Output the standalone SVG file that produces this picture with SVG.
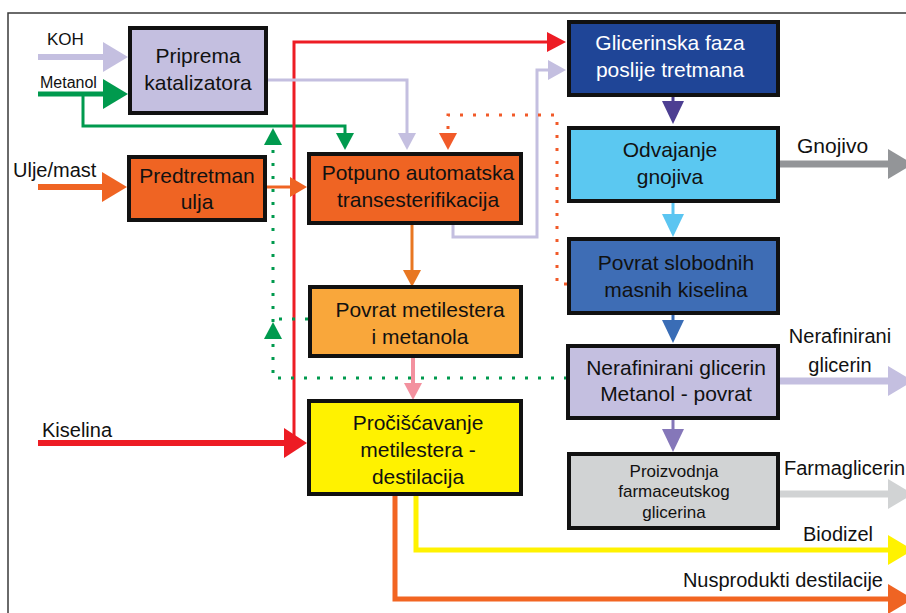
<svg xmlns="http://www.w3.org/2000/svg" width="906" height="613" viewBox="0 0 906 613">
  <style>
    text { font-family: "Liberation Sans", Arial, sans-serif; fill: #111; }
    .node rect { stroke: #111; stroke-width: 4; }
    .nt { font-size: 21px; text-anchor: middle; }
    .nts { font-size: 17px; text-anchor: middle; }
    .lbl { font-size: 20px; }
    .ln { fill: none; stroke-linejoin: miter; }
    .dot { fill: none; stroke-width: 3; stroke-dasharray: 3 10; }
  </style>
  <defs>
    <!-- large heads (inputs/outputs): 25 long, 30 tall -->
    <marker id="L-lav" viewBox="0 0 25 30" refX="0" refY="15" markerWidth="25" markerHeight="30" markerUnits="userSpaceOnUse" orient="auto"><path d="M0,0L25,15L0,30z" fill="#c4bfe0"/></marker>
    <marker id="L-grn" viewBox="0 0 25 30" refX="0" refY="15" markerWidth="25" markerHeight="30" markerUnits="userSpaceOnUse" orient="auto"><path d="M0,0L25,15L0,30z" fill="#009a4e"/></marker>
    <marker id="L-org" viewBox="0 0 25 30" refX="0" refY="15" markerWidth="25" markerHeight="30" markerUnits="userSpaceOnUse" orient="auto"><path d="M0,0L25,15L0,30z" fill="#ef6423"/></marker>
    <marker id="L-gry" viewBox="0 0 25 30" refX="0" refY="15" markerWidth="25" markerHeight="30" markerUnits="userSpaceOnUse" orient="auto"><path d="M0,0L25,15L0,30z" fill="#939598"/></marker>
    <marker id="L-lgy" viewBox="0 0 25 30" refX="0" refY="15" markerWidth="25" markerHeight="30" markerUnits="userSpaceOnUse" orient="auto"><path d="M0,0L25,15L0,30z" fill="#d1d3d4"/></marker>
    <marker id="L-yel" viewBox="0 0 25 30" refX="0" refY="15" markerWidth="25" markerHeight="30" markerUnits="userSpaceOnUse" orient="auto"><path d="M0,0L25,15L0,30z" fill="#fff200"/></marker>
    <!-- medium heads between right-column boxes: 23 long, 22 wide -->
    <marker id="M-dpu" viewBox="0 0 23 22" refX="0" refY="11" markerWidth="23" markerHeight="22" markerUnits="userSpaceOnUse" orient="auto"><path d="M0,0L23,11L0,22z" fill="#4d3f92"/></marker>
    <marker id="M-lbl" viewBox="0 0 23 22" refX="0" refY="11" markerWidth="23" markerHeight="22" markerUnits="userSpaceOnUse" orient="auto"><path d="M0,0L23,11L0,22z" fill="#5bc5f1"/></marker>
    <marker id="M-blu" viewBox="0 0 23 22" refX="0" refY="11" markerWidth="23" markerHeight="22" markerUnits="userSpaceOnUse" orient="auto"><path d="M0,0L23,11L0,22z" fill="#3a6db6"/></marker>
    <marker id="M-pur" viewBox="0 0 23 22" refX="0" refY="11" markerWidth="23" markerHeight="22" markerUnits="userSpaceOnUse" orient="auto"><path d="M0,0L23,11L0,22z" fill="#8577b9"/></marker>
    <!-- small heads: 17 long, 18 wide -->
    <marker id="S-grn" viewBox="0 0 17 18" refX="0" refY="9" markerWidth="17" markerHeight="18" markerUnits="userSpaceOnUse" orient="auto"><path d="M0,0L17,9L0,18z" fill="#009a4e"/></marker>
    <marker id="S-lav" viewBox="0 0 17 18" refX="0" refY="9" markerWidth="17" markerHeight="18" markerUnits="userSpaceOnUse" orient="auto"><path d="M0,0L17,9L0,18z" fill="#c4bfe0"/></marker>
    <marker id="S-dor" viewBox="0 0 17 18" refX="0" refY="9" markerWidth="17" markerHeight="18" markerUnits="userSpaceOnUse" orient="auto"><path d="M0,0L17,9L0,18z" fill="#f15a29"/></marker>
    <marker id="S-amb" viewBox="0 0 17 18" refX="0" refY="9" markerWidth="17" markerHeight="18" markerUnits="userSpaceOnUse" orient="auto"><path d="M0,0L17,9L0,18z" fill="#e87722"/></marker>
    <marker id="S-pnk" viewBox="0 0 17 18" refX="0" refY="9" markerWidth="17" markerHeight="18" markerUnits="userSpaceOnUse" orient="auto"><path d="M0,0L17,9L0,18z" fill="#f3919f"/></marker>
    <marker id="S-red" viewBox="0 0 19 20" refX="0" refY="10" markerWidth="19" markerHeight="20" markerUnits="userSpaceOnUse" orient="auto"><path d="M0,0L19,10L0,20z" fill="#ed1c24"/></marker>
    <marker id="S-lav2" viewBox="0 0 18 20" refX="0" refY="10" markerWidth="18" markerHeight="20" markerUnits="userSpaceOnUse" orient="auto"><path d="M0,0L18,10L0,20z" fill="#c4bfe0"/></marker>
    <marker id="S-org2" viewBox="0 0 17 20" refX="0" refY="10" markerWidth="17" markerHeight="20" markerUnits="userSpaceOnUse" orient="auto"><path d="M0,0L17,10L0,20z" fill="#ef6423"/></marker>
    <marker id="K-red" viewBox="0 0 23 30" refX="0" refY="15" markerWidth="23" markerHeight="30" markerUnits="userSpaceOnUse" orient="auto"><path d="M0,0L23,15L0,30z" fill="#ed1c24"/></marker>
  </defs>

  <rect width="906" height="613" fill="#ffffff"/>
  <!-- frame -->
  <path d="M8,613 V13 H906" fill="none" stroke="#3a3a3a" stroke-width="1.5"/>

  <g id="connectors">
    <!-- inputs -->
    <path class="ln" d="M38,57 H103" stroke="#c4bfe0" stroke-width="6" marker-end="url(#L-lav)"/>
    <path class="ln" d="M38,94 H103" stroke="#009a4e" stroke-width="5" marker-end="url(#L-grn)"/>
    <path class="ln" d="M83,94 V126 H345 V133" stroke="#009a4e" stroke-width="3" marker-end="url(#S-grn)"/>
    <path class="ln" d="M38,187 H102" stroke="#ef6423" stroke-width="6" marker-end="url(#L-org)"/>
    <path class="ln" d="M38,443 H284" stroke="#ed1c24" stroke-width="6" marker-end="url(#K-red)"/>
    <!-- red acid line up to glycerin phase -->
    <path class="ln" d="M294,443 V42 H547" stroke="#ed1c24" stroke-width="3" marker-end="url(#S-red)"/>
    <!-- catalyst to transesterification -->
    <path class="ln" d="M268,80 H407 V133" stroke="#c4bfe0" stroke-width="3" marker-end="url(#S-lav)"/>
    <!-- pretreatment to transesterification -->
    <path class="ln" d="M267,187 H290" stroke="#ef6423" stroke-width="3" marker-end="url(#S-org2)"/>
    <!-- transesterification to glycerin phase -->
    <path class="ln" d="M453,225 V237 H537 V70 H548" stroke="#c4bfe0" stroke-width="3" marker-end="url(#S-lav2)"/>
    <!-- free fatty acids return (dotted) -->
    <path class="dot" d="M567,284 H557 V115 H448 V133" stroke="#f15a29" marker-end="url(#S-dor)"/>
    <!-- transesterification to ester recovery -->
    <path class="ln" d="M412,225 V270" stroke="#e87722" stroke-width="3" marker-end="url(#S-amb)"/>
    <!-- ester recovery to purification -->
    <path class="ln" d="M413,358 V383" stroke="#f3919f" stroke-width="4" marker-end="url(#S-pnk)"/>
    <!-- methanol recycle (dotted) -->
    <path class="dot" d="M308,319 H273" stroke="#009a4e"/>
    <path class="dot" d="M567,378 H273 V339" stroke="#009a4e" marker-end="url(#S-grn)"/>
    <path class="dot" d="M273,322 V145" stroke="#009a4e" marker-end="url(#S-grn)"/>
    <!-- right column -->
    <path class="ln" d="M673,97 V101" stroke="#4d3f92" stroke-width="3" marker-end="url(#M-dpu)"/>
    <path class="ln" d="M673,203 V214" stroke="#5bc5f1" stroke-width="3" marker-end="url(#M-lbl)"/>
    <path class="ln" d="M673,315 V320" stroke="#3a6db6" stroke-width="3" marker-end="url(#M-blu)"/>
    <path class="ln" d="M673,420 V429" stroke="#8577b9" stroke-width="3" marker-end="url(#M-pur)"/>
    <!-- outputs -->
    <path class="ln" d="M780,164 H888" stroke="#939598" stroke-width="7" marker-end="url(#L-gry)"/>
    <path class="ln" d="M780,381 H888" stroke="#c4bfe0" stroke-width="7" marker-end="url(#L-lav)"/>
    <path class="ln" d="M780,494 H888" stroke="#d1d3d4" stroke-width="7" marker-end="url(#L-lgy)"/>
    <path class="ln" d="M416,496 V550 H888" stroke="#fff200" stroke-width="5" marker-end="url(#L-yel)"/>
    <path class="ln" d="M395,496 V599 H888" stroke="#f26522" stroke-width="5" marker-end="url(#L-org)"/>
  </g>

  <!-- stream labels -->
  <g id="labels">
    <text x="47" y="45" style="font-size:17px">KOH</text>
    <text x="40" y="88" style="font-size:16px">Metanol</text>
    <text class="lbl" x="13" y="177">Ulje/mast</text>
    <text class="lbl" x="42" y="437">Kiselina</text>
    <text class="lbl" x="797" y="153" style="font-size:21px">Gnojivo</text>
    <text class="lbl" x="840" y="343" text-anchor="middle">Nerafinirani</text>
    <text class="lbl" x="840" y="372" text-anchor="middle">glicerin</text>
    <text class="lbl" x="784" y="475">Farmaglicerin</text>
    <text class="lbl" x="803" y="541">Biodizel</text>
    <text class="lbl" x="883" y="587" text-anchor="end">Nusprodukti destilacije</text>
  </g>

  <g id="priprema" class="node">
    <rect x="130" y="28" width="136" height="85" fill="#c4bfe0"/>
    <text class="nt" x="198" y="63">Priprema</text>
    <text class="nt" x="198" y="90">katalizatora</text>
  </g>
  <g id="predtretman" class="node">
    <rect x="129" y="157" width="136" height="63" fill="#ef6423"/>
    <text class="nt" x="197" y="183">Predtretman</text>
    <text class="nt" x="197" y="209">ulja</text>
  </g>
  <g id="transesterifikacija" class="node">
    <rect x="309" y="154" width="212" height="69" fill="#ef6423"/>
    <text class="nt" x="418" y="180">Potpuno automatska</text>
    <text class="nt" x="418" y="207">transesterifikacija</text>
  </g>
  <g id="povrat-metilestera" class="node">
    <rect x="310" y="287" width="211" height="69" fill="#f9a73b"/>
    <text class="nt" x="420" y="317">Povrat metilestera</text>
    <text class="nt" x="420" y="344">i metanola</text>
  </g>
  <g id="prociscavanje" class="node">
    <rect x="309" y="401" width="212" height="93" fill="#fff200"/>
    <text class="nt" x="418" y="430">Pročišćavanje</text>
    <text class="nt" x="418" y="457">metilestera -</text>
    <text class="nt" x="418" y="484">destilacija</text>
  </g>
  <g id="glicerinska-faza" class="node">
    <rect x="569" y="22" width="209" height="73" fill="#1f4597"/>
    <text class="nt" x="670" y="50" style="fill:#ffffff">Glicerinska faza</text>
    <text class="nt" x="670" y="77" style="fill:#ffffff">poslije tretmana</text>
  </g>
  <g id="odvajanje" class="node">
    <rect x="569" y="128" width="209" height="73" fill="#5bc8f1"/>
    <text class="nt" x="670" y="157">Odvajanje</text>
    <text class="nt" x="670" y="184">gnojiva</text>
  </g>
  <g id="povrat-kiselina" class="node">
    <rect x="569" y="239" width="209" height="74" fill="#3e6db5"/>
    <text class="nt" x="676" y="270">Povrat slobodnih</text>
    <text class="nt" x="676" y="297">masnih kiselina</text>
  </g>
  <g id="nerafinirani" class="node">
    <rect x="568" y="346" width="210" height="72" fill="#c4bfe0"/>
    <text class="nt" x="676" y="375">Nerafinirani glicerin</text>
    <text class="nt" x="676" y="401">Metanol - povrat</text>
  </g>
  <g id="farmaceutski" class="node">
    <rect x="569" y="454" width="209" height="74" fill="#d1d3d4"/>
    <text class="nts" x="674" y="477">Proizvodnja</text>
    <text class="nts" x="674" y="497">farmaceutskog</text>
    <text class="nts" x="674" y="518">glicerina</text>
  </g>
</svg>
